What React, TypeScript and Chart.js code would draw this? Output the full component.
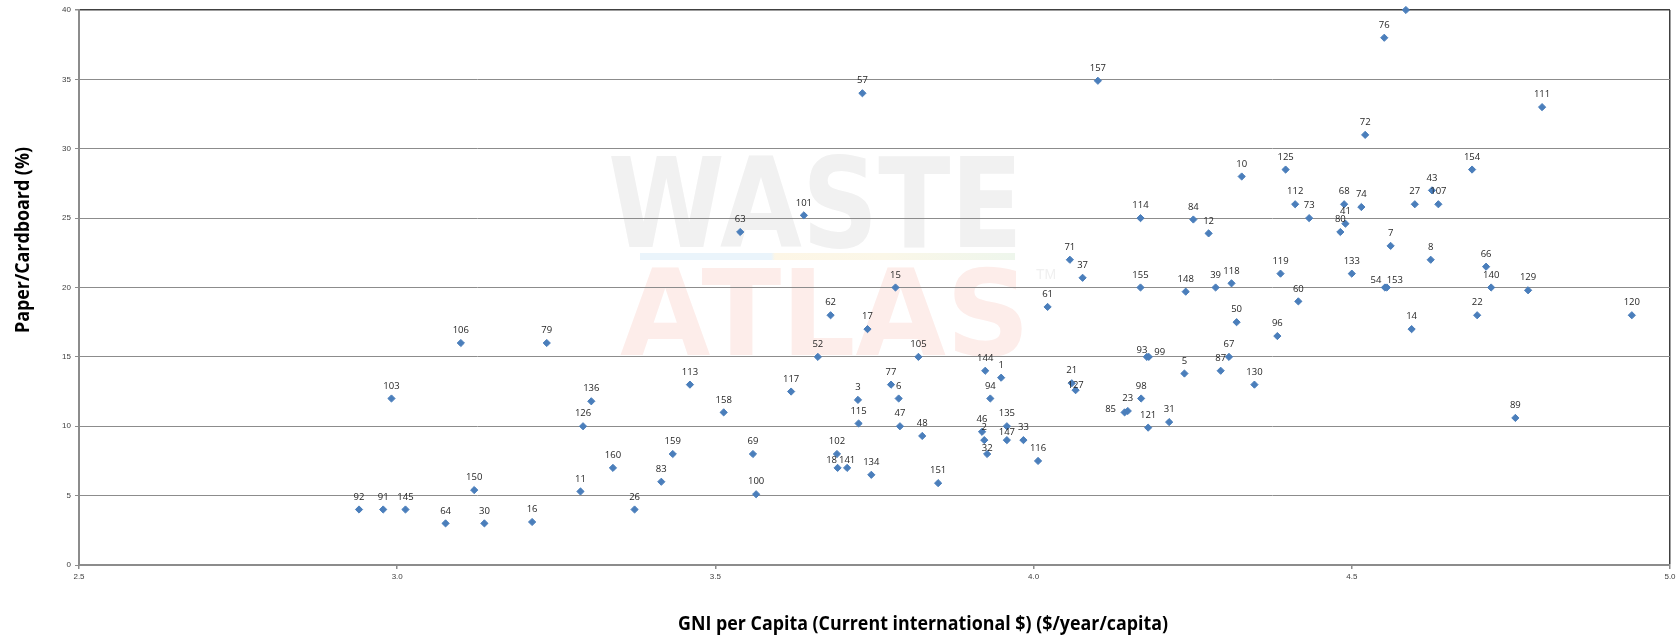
import React, { useEffect, useRef } from "react";
import { Chart, registerables } from "chart.js";

Chart.register(...registerables);

// ---- Data ----
const pointNames = [
  "92", "91", "145", "103", "106", "79", "64", "30", "150", "16",
  "11", "126", "136", "160", "26", "83", "159", "113", "158", "63",
  "69", "100", "117", "101", "52", "62", "102", "18", "141", "3",
  "115", "57", "17", "134", "77", "15", "6", "47", "105", "48",
  "151", "46", "2", "144", "32", "94", "1", "135", "147", "33",
  "116", "61", "71", "21", "127", "37", "157", "85", "23", "114",
  "155", "98", "93", "99", "121", "31", "5", "148", "84", "12",
  "39", "87", "67", "118", "50", "10", "130", "96", "119", "125",
  "112", "60", "73", "80", "68", "41", "133", "74", "72", "76",
  "54", "153", "7", "13", "14", "27", "8", "43", "107", "154",
  "22", "66", "140", "89", "129", "111", "120",
];

const gniValues = [
  2.940, 2.978, 3.013, 2.991, 3.100, 3.235, 3.076, 3.137, 3.121, 3.212,
  3.288, 3.292, 3.305, 3.339, 3.373, 3.415, 3.433, 3.460, 3.513, 3.539,
  3.559, 3.564, 3.619, 3.639, 3.661, 3.681, 3.691, 3.692, 3.707, 3.724,
  3.725, 3.731, 3.739, 3.745, 3.776, 3.783, 3.788, 3.790, 3.819, 3.825,
  3.850, 3.919, 3.9225, 3.924, 3.927, 3.932, 3.949, 3.958, 3.958, 3.984,
  4.007, 4.022, 4.057, 4.060, 4.066, 4.077, 4.101, 4.143, 4.148, 4.168,
  4.168, 4.169, 4.178, 4.181, 4.180, 4.213, 4.237, 4.239, 4.251, 4.275,
  4.286, 4.294, 4.307, 4.311, 4.319, 4.327, 4.347, 4.383, 4.388, 4.396,
  4.411, 4.416, 4.433, 4.482, 4.488, 4.490, 4.500, 4.515, 4.521, 4.551,
  4.552, 4.555, 4.561, 4.585, 4.594, 4.599, 4.624, 4.626, 4.636, 4.689,
  4.697, 4.711, 4.719, 4.757, 4.777, 4.799, 4.940,
];

const paperValues = [
  4, 4, 4, 12, 16, 16, 3, 3, 5.4, 3.1,
  5.3, 10, 11.8, 7, 4, 6, 8, 13, 11, 24,
  8, 5.1, 12.5, 25.2, 15, 18, 8, 7, 7, 11.9,
  10.2, 34, 17, 6.5, 13, 20, 12, 10, 15, 9.3,
  5.9, 9.6, 9, 14, 8, 12, 13.5, 10, 9, 9,
  7.5, 18.6, 22, 13.1, 12.6, 20.7, 34.9, 11, 11.1, 25,
  20, 12, 15, 15, 9.9, 10.3, 13.8, 19.7, 24.9, 23.9,
  20, 14, 15, 20.3, 17.5, 28, 13, 16.5, 21, 28.5,
  26, 19, 25, 24, 26, 24.6, 21, 25.8, 31, 38,
  20, 20, 23, 40, 17, 26, 22, 27, 26, 28.5,
  18, 21.5, 20, 10.6, 19.8, 33, 18,
];

const xTickValues = [2.5, 3.0, 3.5, 4.0, 4.5, 5.0];
const yTickValues = [0, 5, 10, 15, 20, 25, 30, 35, 40];

const xTitle = "GNI per Capita (Current international $) ($/year/capita)";
const yTitle = "Paper/Cardboard (%)";

// label placement tweaks (pixel offsets relative to point)
const LABEL_OFFSETS: Record<string, [number, number]> = {
  "85": [-14, -3],
  "54": [-9, -7],
  "153": [8, -7],
  "93": [-5, -7],
  "99": [11, -5],
  "147": [0, -8],
  "32": [0, -6],
  "18": [-6, -8],
  "141": [0, -8],
  "127": [0, -5],
};

function fitText(
  ctx: CanvasRenderingContext2D,
  text: string,
  x0: number,
  y0: number,
  x1: number,
  y1: number,
  font: string,
  color: string
) {
  ctx.save();
  ctx.font = font;
  ctx.textAlign = "left";
  ctx.textBaseline = "alphabetic";
  const m = ctx.measureText(text);
  const w = m.actualBoundingBoxLeft + m.actualBoundingBoxRight;
  const h = m.actualBoundingBoxAscent + m.actualBoundingBoxDescent;
  ctx.translate(x0, y0);
  ctx.scale((x1 - x0) / w, (y1 - y0) / h);
  ctx.fillStyle = color;
  ctx.fillText(text, m.actualBoundingBoxLeft, m.actualBoundingBoxAscent);
  ctx.restore();
}

const watermarkPlugin = {
  id: "watermark",
  beforeDraw(chart: any) {
    const ctx: CanvasRenderingContext2D = chart.ctx;
    ctx.save();
    ctx.fillStyle = "#ffffff";
    ctx.fillRect(0, 0, chart.width, chart.height);
    fitText(ctx, "WASTE", 610, 153, 1015, 248, "900 100px 'DejaVu Sans'", "#f1f1f1");
    fitText(ctx, "ATLAS", 620, 265, 1022, 356, "900 100px 'DejaVu Sans'", "#fdedea");
    const g = ctx.createLinearGradient(640, 0, 1015, 0);
    g.addColorStop(0, "#eaf4fb");
    g.addColorStop(0.35, "#eaf4fb");
    g.addColorStop(0.36, "#fdf6e6");
    g.addColorStop(0.65, "#fbf7e8");
    g.addColorStop(1, "#eef6ec");
    ctx.fillStyle = g;
    ctx.fillRect(640, 253, 375, 7);
    ctx.fillStyle = "#f0f0f0";
    ctx.font = "14px 'Liberation Sans'";
    ctx.textAlign = "left";
    ctx.textBaseline = "top";
    ctx.fillText("TM", 1036, 268);
    ctx.restore();
  },
};

const labelPlugin = {
  id: "pointNames",
  afterDatasetsDraw(chart: any) {
    const ctx: CanvasRenderingContext2D = chart.ctx;
    const meta = chart.getDatasetMeta(0);
    ctx.save();
    ctx.font = "9.5px 'Open Sans'";
    ctx.fillStyle = "#262626";
    ctx.textAlign = "center";
    ctx.textBaseline = "middle";
    meta.data.forEach((el: any, i: number) => {
      const name = pointNames[i];
      const off = LABEL_OFFSETS[name] || [0, -12.5];
      ctx.fillText(name, el.x + off[0], el.y + off[1]);
    });
    ctx.restore();
  },
};

const titlePlugin = {
  id: "axisTitles",
  afterDraw(chart: any) {
    const ctx: CanvasRenderingContext2D = chart.ctx;
    ctx.save();
    ctx.font = "bold 19px 'Open Sans'";
    ctx.fillStyle = "#000000";
    ctx.textAlign = "center";
    ctx.textBaseline = "middle";
    // x title
    const wx = ctx.measureText(xTitle).width;
    ctx.save();
    ctx.translate(923, 625);
    ctx.scale(Math.min(1, 490 / wx), 1);
    ctx.fillText(xTitle, 0, 0);
    ctx.restore();
    // y title
    const wy = ctx.measureText(yTitle).width;
    ctx.save();
    ctx.translate(24, 240);
    ctx.rotate(-Math.PI / 2);
    ctx.scale(Math.min(1, 186 / wy), 1);
    ctx.fillText(yTitle, 0, 0);
    ctx.restore();
    ctx.restore();
  },
};

export default function App() {
  const canvasRef = useRef<HTMLCanvasElement | null>(null);

  useEffect(() => {
    document.body.style.margin = "0";
    const canvas = canvasRef.current;
    if (!canvas) return;
    const chart = new Chart(canvas, {
      type: "scatter",
      data: {
        datasets: [
          {
            label: "Paper/Cardboard",
            data: gniValues.map((x, i) => ({ x, y: paperValues[i] })),
            pointStyle: "rectRot",
            pointRadius: 3.6,
            pointHoverRadius: 3.6,
            backgroundColor: "#4a7ebb",
            borderColor: "#4a7ebb",
            borderWidth: 1,
            clip: false as any,
          },
        ],
      },
      options: {
        responsive: false,
        animation: false,
        devicePixelRatio: 1,
        layout: { padding: { top: 10, right: 10, left: 0, bottom: 0 } },
        plugins: {
          legend: { display: false },
          tooltip: { enabled: false },
          title: { display: false },
        },
        scales: {
          x: {
            type: "linear",
            min: 2.5,
            max: 5.0,
            afterBuildTicks(scale: any) {
              scale.ticks = xTickValues.map((v) => ({ value: v }));
            },
            afterFit(scale: any) {
              scale.height = 75;
            },
            ticks: {
              autoSkip: false,
              maxRotation: 0,
              padding: 3,
              color: "#404040",
              font: { family: "'Liberation Sans'", size: 8 },
              callback: (v: any) => Number(v).toFixed(1),
            },
            grid: {
              drawOnChartArea: true,
              color: (c: any) => (c.tick && c.tick.value === 5 ? "#404040" : "rgba(0,0,0,0)"),
              tickColor: "#8c8c8c",
              tickLength: 4,
              lineWidth: 1.5,
            },
            border: { color: "#8c8c8c", width: 2 },
          },
          y: {
            type: "linear",
            min: 0,
            max: 40,
            afterBuildTicks(scale: any) {
              scale.ticks = yTickValues.map((v) => ({ value: v }));
            },
            afterFit(scale: any) {
              scale.width = 79;
            },
            ticks: {
              autoSkip: false,
              padding: 4,
              color: "#404040",
              font: { family: "'Liberation Sans'", size: 8 },
              callback: (v: any) => String(v),
            },
            grid: {
              color: (c: any) => (c.tick && c.tick.value === 40 ? "#404040" : "#8c8c8c"),
              tickColor: "#8c8c8c",
              tickLength: 4,
              lineWidth: (c: any) => (c.tick && c.tick.value === 40 ? 1.5 : 1),
            },
            border: { color: "#8c8c8c", width: 2 },
          },
        },
      },
      plugins: [watermarkPlugin, labelPlugin, titlePlugin],
    });
    return () => chart.destroy();
  }, []);

  return (
    <div style={{ position: "fixed", left: 0, top: 0, width: 1680, height: 640, background: "#fff" }}>
      <canvas ref={canvasRef} width={1680} height={640} style={{ display: "block" }} />
    </div>
  );
}
